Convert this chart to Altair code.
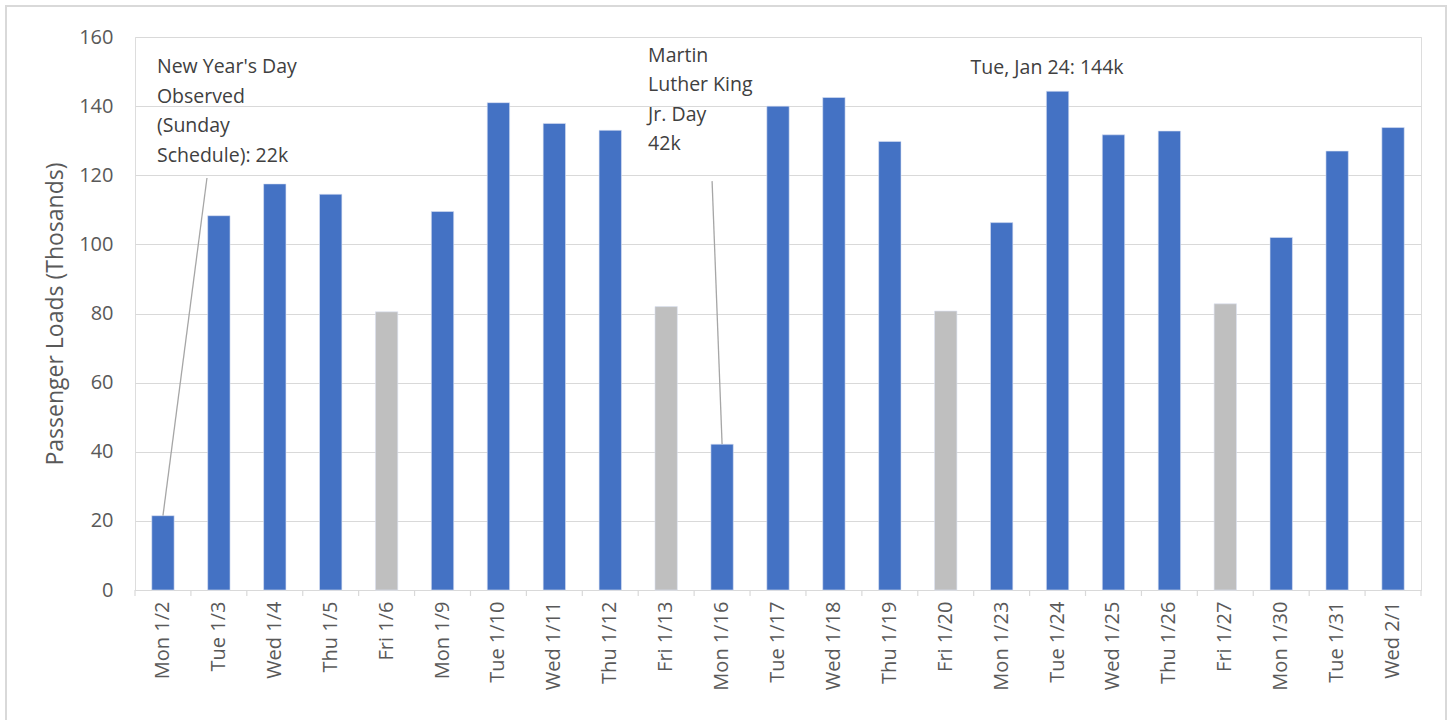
import altair as alt
import pandas as pd

# ---- data ----
days = ["Mon 1/2", "Tue 1/3", "Wed 1/4", "Thu 1/5", "Fri 1/6", "Mon 1/9", "Tue 1/10",
        "Wed 1/11", "Thu 1/12", "Fri 1/13", "Mon 1/16", "Tue 1/17", "Wed 1/18", "Thu 1/19",
        "Fri 1/20", "Mon 1/23", "Tue 1/24", "Wed 1/25", "Thu 1/26", "Fri 1/27", "Mon 1/30",
        "Tue 1/31", "Wed 2/1"]
loads = [21.5, 108.3, 117.5, 114.5, 80.5, 109.5, 141.0, 135.0, 133.0, 82.0, 42.2, 140.0,
         142.5, 129.8, 80.7, 106.3, 144.3, 131.7, 132.8, 82.8, 102.0, 127.0, 133.8]

note_days = ["Mon 1/2", "Mon 1/16", "Tue 1/24"]
note_texts = ["New Year's Day\nObserved\n(Sunday\nSchedule): 22k",
              "Martin\nLuther King\nJr. Day\n42k",
              "Tue, Jan 24: 144k"]
note_y = [151.3, 154.6, 151.0]
note_dx = [-6, -74, -87]

leader_days = ["Mon 1/2", "Mon 1/16"]
leader_from = [21.5, 42.2]
leader_to = [119.2, 118.3]

W, H = 1286, 553
FONT = "Open Sans"
Y_TITLE = "Passenger Loads (Thosands)"

df = pd.DataFrame({"day": days, "loads": loads})
df["kind"] = ["Friday" if d.startswith("Fri") else "Weekday" for d in days]

xs = alt.Scale(domain=days, paddingInner=0.6, paddingOuter=0.3)
ys = alt.Scale(domain=[0, 160], nice=False)

xaxis = alt.Axis(labelAngle=270, labelFont=FONT, labelFontSize=20,
                 labelColor="#595959", ticks=False, labelPadding=11,
                 domainColor="#d9d9d9", domainWidth=1.2, grid=False)
yaxis = alt.Axis(values=[0, 20, 40, 60, 80, 100, 120, 140, 160],
                 labelFont=FONT, labelFontSize=20, labelColor="#595959",
                 ticks=False, domain=False, labelPadding=22,
                 gridColor="#d9d9d9", gridWidth=1.2,
                 titleFont=FONT, titleFontSize=23, titleFontWeight="normal",
                 titleColor="#595959", titlePadding=11)

bars = alt.Chart(df).mark_bar(stroke="#dbe3f3", strokeWidth=0.6).encode(
    x=alt.X("day:N", sort=days, scale=xs, title=None, axis=xaxis),
    y=alt.Y("loads:Q", scale=ys, title=Y_TITLE, axis=yaxis),
    color=alt.Color("kind:N", scale=alt.Scale(domain=["Weekday", "Friday"],
                                              range=["#4472c4", "#bfbfbf"]), legend=None),
)

# category-boundary tick marks below the axis (Excel style)
ticks = alt.Chart(df).mark_rule(color="#d9d9d9", strokeWidth=1.2,
                                xOffset=-0.3 * W / len(days)).encode(
    x=alt.X("day:N", sort=days, scale=xs, bandPosition=0, title=None, axis=xaxis),
    y=alt.value(H), y2=alt.value(H + 6),
)
end_tick = alt.Chart(pd.DataFrame({"a": [0]})).mark_rule(color="#d9d9d9", strokeWidth=1.2).encode(
    x=alt.value(W), y=alt.value(H), y2=alt.value(H + 6))

leaders_df = pd.DataFrame({"day": leader_days, "y0": leader_from, "y1": leader_to,
                           "off": [44, -10]})
leader_layers = []
for i in range(len(leader_days)):
    sub = leaders_df.iloc[[i]]
    leader_layers.append(
        alt.Chart(sub).mark_rule(color="#a6a6a6", strokeWidth=1.3,
                                 x2Offset=float(sub["off"].iloc[0])).encode(
            x=alt.X("day:N", sort=days, scale=xs, title=None, axis=xaxis),
            x2=alt.X2("day"),
            y=alt.Y("y0:Q", scale=ys, title=Y_TITLE, axis=yaxis),
            y2=alt.Y2("y1"),
        )
    )

notes_df = pd.DataFrame({"day": note_days, "text": note_texts, "y": note_y, "dx": note_dx})
note_layers = []
for i in range(len(note_days)):
    sub = notes_df.iloc[[i]]
    note_layers.append(
        alt.Chart(sub).mark_text(align="left", baseline="middle", font=FONT, fontSize=19.5,
                                 color="#404040", lineBreak="\n", lineHeight=29.5,
                                 dx=float(sub["dx"].iloc[0])).encode(
            x=alt.X("day:N", sort=days, scale=xs, title=None, axis=xaxis),
            y=alt.Y("y:Q", scale=ys, title=Y_TITLE, axis=yaxis),
            text="text:N",
        )
    )

frame = alt.Chart(pd.DataFrame({"a": [0]})).mark_rect(
    filled=False, stroke="#d9d9d9", strokeWidth=2).encode(
    x=alt.value(-129), x2=alt.value(1311), y=alt.value(-31), y2=alt.value(H + 160))

chart = alt.layer(frame, bars, ticks, end_tick, *leader_layers, *note_layers).properties(
    width=W, height=H,
    padding={"left": 135, "top": 37, "right": 28, "bottom": 130},
    autosize=alt.AutoSizeParams(type="none"),
).configure_view(strokeWidth=0).configure(background="white")

chart.save("out.html", embed_options={"renderer": "svg", "actions": False})
